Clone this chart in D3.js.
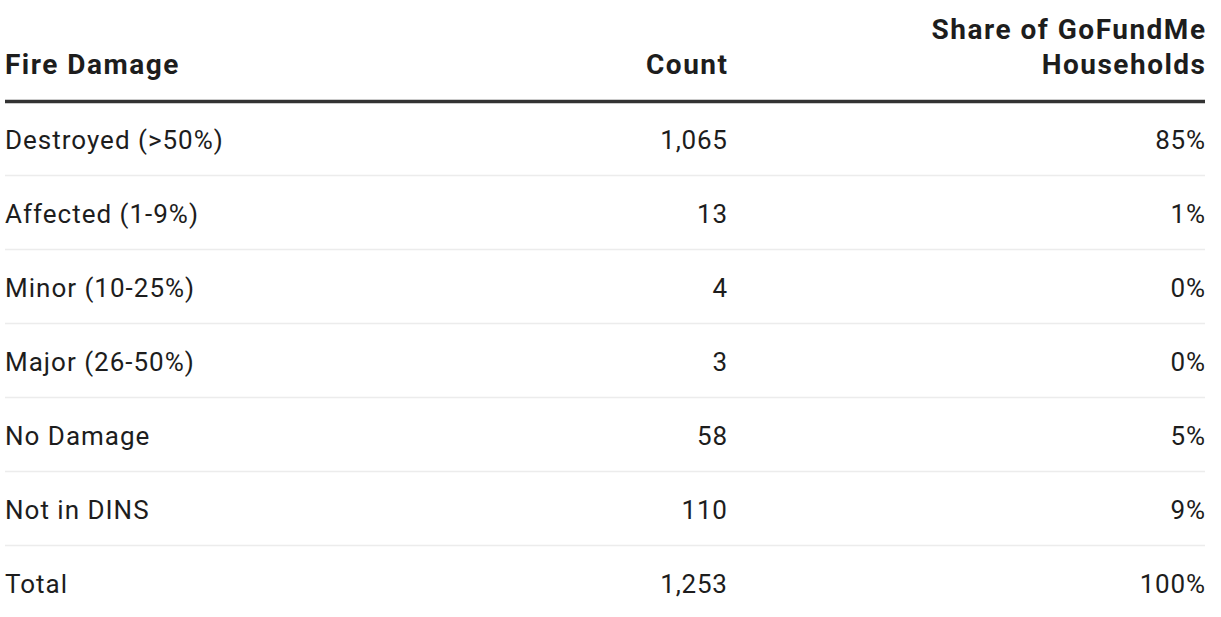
<!DOCTYPE html>
<html>
<head>
<meta charset="utf-8">
<script src="https://cdn.jsdelivr.net/npm/d3@7"></script>
<style>
  html, body { margin: 0; padding: 0; background: #fff; }
  text { font-family: Roboto, "Open Sans", sans-serif; }
</style>
</head>
<body>
<div id="chart"></div>
<script>
// table contents
const headers = [["Fire Damage"], ["Count"], ["Share of GoFundMe", "Households"]];
const damage = ["Destroyed (>50%)", "Affected (1-9%)", "Minor (10-25%)", "Major (26-50%)", "No Damage", "Not in DINS", "Total"];
const counts = [1065, 13, 4, 3, 58, 110, 1253];
const shares = [85, 1, 0, 0, 5, 9, 100];

function drawTable() {
  const width = 1221;
  const height = 617;
  const left = 5, right = 1205;
  const headTop = 101.5;
  const headLs = 1.5;
  const bodyLs = [1.0, 0.8, 0.8];

  d3.select("#chart").selectAll("*").remove();

  const svg = d3.select("#chart").append("svg")
    .attr("width", width)
    .attr("height", height);

  // rows stacked below the header rule
  const y = d3.scaleBand()
    .domain(damage)
    .range([headTop, headTop + damage.length * 74]);

  // column anchors: label left, numbers right aligned
  const cols = [
    {x: left, anchor: "start"},
    {x: 727, anchor: "end"},
    {x: right, anchor: "end"}
  ];
  // trailing letter-spacing pushes end-anchored text left, so nudge it back
  const colX = (i, ls) => cols[i].anchor === "end" ? cols[i].x + ls : cols[i].x;

  // header
  const head = svg.append("g");
  headers.forEach((lines, i) => {
    const t = head.append("text")
      .attr("text-anchor", cols[i].anchor)
      .attr("font-size", "28px")
      .attr("font-weight", "bold")
      .attr("letter-spacing", headLs)
      .attr("fill", "#1d1d1d");
    lines.forEach((line, j) => {
      t.append("tspan")
        .attr("x", colX(i, headLs))
        .attr("y", 74 - (lines.length - 1 - j) * 35)
        .text(line);
    });
  });

  svg.append("line")
    .attr("x1", left).attr("x2", right)
    .attr("y1", headTop).attr("y2", headTop)
    .attr("stroke", "#333")
    .attr("stroke-width", 3.5);

  // body rows
  const rows = svg.selectAll("g.row")
    .data(damage.map((d, i) => ({label: d, count: counts[i], share: shares[i]})))
    .join("g")
    .attr("class", "row")
    .attr("transform", d => `translate(0,${y(d.label)})`);

  rows.filter((d, i) => i < damage.length - 1)
    .append("line")
    .attr("x1", left).attr("x2", right)
    .attr("y1", y.bandwidth()).attr("y2", y.bandwidth())
    .attr("stroke", "#ececec")
    .attr("stroke-width", 1.5);

  const cells = [d => d.label, d => d3.format(",")(d.count), d => d.share + "%"];
  cells.forEach((fn, i) => {
    rows.append("text")
      .attr("x", colX(i, bodyLs[i]))
      .attr("y", 47.5)
      .attr("text-anchor", cols[i].anchor)
      .attr("font-size", "26px")
      .attr("letter-spacing", bodyLs[i])
      .attr("fill", "#1d1d1d")
      .text(fn);
  });
}

drawTable();
</script>
</body>
</html>
